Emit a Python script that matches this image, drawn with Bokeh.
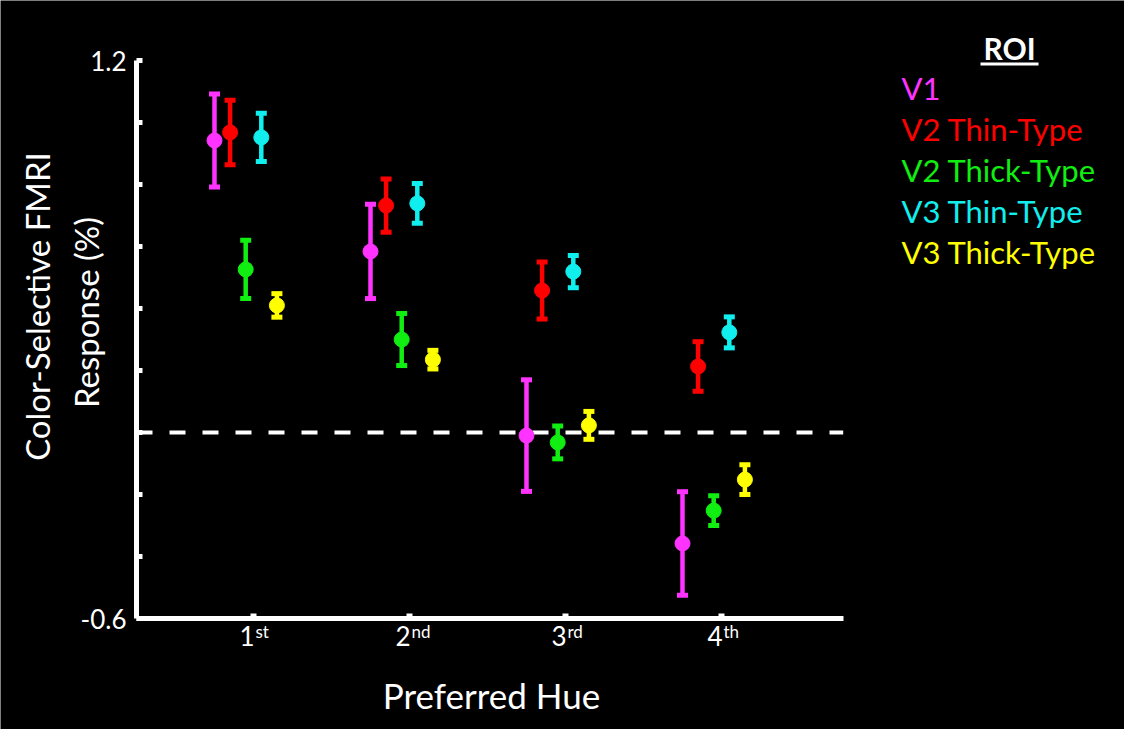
import math
from bokeh.plotting import figure
from bokeh.models import (ColumnDataSource, Whisker, TeeHead, Label,
                          FixedTicker, CustomJSTickFormatter, BoxAnnotation)
from bokeh.embed import file_html
from bokeh.resources import INLINE

# ---------------- data ----------------
hues = [1, 2, 3, 4]
hue_labels = ["1", "2", "3", "4"]
hue_suffix = ["st", "nd", "rd", "th"]

roi_names = ["V1", "V2 Thin-Type", "V2 Thick-Type", "V3 Thin-Type", "V3 Thick-Type"]
roi_colors = ["#ff33ff", "#ff0000", "#11ee11", "#11eeee", "#ffff00"]

v1_mean = [0.942, 0.584, -0.010, -0.358]
v1_err = [0.150, 0.152, 0.180, 0.167]
v2_thin_mean = [0.968, 0.732, 0.458, 0.213]
v2_thin_err = [0.104, 0.086, 0.092, 0.080]
v2_thick_mean = [0.526, 0.300, -0.032, -0.252]
v2_thick_err = [0.094, 0.084, 0.053, 0.048]
v3_thin_mean = [0.952, 0.739, 0.519, 0.323]
v3_thin_err = [0.078, 0.064, 0.052, 0.050]
v3_thick_mean = [0.410, 0.235, 0.023, -0.152]
v3_thick_err = [0.038, 0.030, 0.045, 0.048]

y_ticks = [-0.6, -0.4, -0.2, 0.0, 0.2, 0.4, 0.6, 0.8, 1.0, 1.2]
y_tick_labels = {"1.2": "1.2", "-0.6": "-0.6"}

x_title = "Preferred Hue"
y_title = ["Color-Selective FMRI", "Response (%)"]
legend_title = "ROI"

series_means = [v1_mean, v2_thin_mean, v2_thick_mean, v3_thin_mean, v3_thick_mean]
series_errs = [v1_err, v2_thin_err, v2_thick_err, v3_thin_err, v3_thick_err]

# ---------------- layout ----------------
FONT = "Lato"
W, H = 1124, 729
X_PX = 156.0          # pixels per category step
Y_PX = 310.0          # pixels per response unit
X1_AT = 253           # canvas px of first category
Y0_AT = 432           # canvas px (from top) of zero
x_lo, x_hi = 0.25, 4.78      # axis extent
y_lo, y_hi = -0.6, 1.2

x_range = (1 - X1_AT / X_PX, 1 + (W - X1_AT) / X_PX)
y_range = (-(H - Y0_AT) / Y_PX, Y0_AT / Y_PX)

p = figure(width=W, height=H, output_backend="svg", toolbar_location=None,
           x_range=x_range, y_range=y_range,
           min_border=0, min_border_left=0, min_border_right=0,
           min_border_top=0, min_border_bottom=0)
p.background_fill_color = "black"
p.border_fill_color = "black"
p.outline_line_color = None
p.xgrid.visible = False
p.ygrid.visible = False

# axes placed at fixed locations inside the frame
for ax in (p.xaxis[0], p.yaxis[0]):
    ax.axis_line_color = "white"
    ax.axis_line_width = 5
    ax.major_tick_line_color = "white"
    ax.minor_tick_line_color = None
    ax.major_tick_out = 0
    ax.major_label_text_color = "white"
    ax.major_label_text_font = FONT

p.yaxis.fixed_location = x_lo
p.yaxis.bounds = (y_lo, y_hi)
p.yaxis.ticker = FixedTicker(ticks=y_ticks)
p.yaxis.major_tick_in = 6
p.yaxis.major_tick_line_width = 5
p.yaxis.major_label_text_font_size = "26px"
p.yaxis.major_label_standoff = 10
p.yaxis.formatter = CustomJSTickFormatter(args=dict(labels=y_tick_labels), code="""
    const k = (Math.round(tick * 10) / 10).toFixed(1);
    return (k in labels) ? labels[k] : "";
""")

p.xaxis.fixed_location = y_lo
p.xaxis.bounds = (x_lo, x_hi)
p.xaxis.ticker = FixedTicker(ticks=hues)
p.xaxis.major_tick_in = 5
p.xaxis.major_tick_line_width = 6
p.xaxis.major_label_text_alpha = 0
p.xaxis.major_label_text_font_size = "1px"

# zero reference line
p.line(x=[x_lo, x_hi], y=[0, 0], line_color="white", line_width=4, line_dash="16 17")

# data
for i, (name, color, means, errs) in enumerate(zip(roi_names, roi_colors, series_means, series_errs)):
    dodge = (i - 2) * 0.1 - 0.05
    src = ColumnDataSource(dict(
        x=[h + dodge for h in hues],
        y=means,
        upper=[m + e for m, e in zip(means, errs)],
        lower=[m - e for m, e in zip(means, errs)],
    ))
    p.add_layout(Whisker(base="x", upper="upper", lower="lower", source=src,
                         dimension="height", line_color=color, line_width=4.5,
                         upper_head=TeeHead(size=11, line_color=color, line_width=5),
                         lower_head=TeeHead(size=11, line_color=color, line_width=5)))
    p.scatter("x", "y", source=src, marker="circle", size=15,
              fill_color=color, line_color=color)

# x tick labels with superscripts (screen y measured from canvas bottom)
for h, lab, suf in zip(hues, hue_labels, hue_suffix):
    p.add_layout(Label(x=h, y=94, y_units="screen", x_offset=1, text=lab,
                       text_align="right", text_baseline="alphabetic",
                       text_color="white", text_font=FONT, text_font_size="26px"))
    p.add_layout(Label(x=h, y=98, y_units="screen", x_offset=2, text=suf,
                       text_align="left", text_baseline="alphabetic",
                       text_color="white", text_font=FONT, text_font_size="17px"))

# axis titles
p.add_layout(Label(x=491, y=35, x_units="screen", y_units="screen", text=x_title,
                   text_align="center", text_baseline="alphabetic",
                   text_color="white", text_font=FONT, text_font_size="35px"))
p.add_layout(Label(x=36, y=423, x_units="screen", y_units="screen", text=y_title[0],
                   angle=math.pi / 2, text_align="center", text_baseline="middle",
                   text_color="white", text_font=FONT, text_font_size="33px"))
p.add_layout(Label(x=85, y=417, x_units="screen", y_units="screen", text=y_title[1],
                   angle=math.pi / 2, text_align="center", text_baseline="middle",
                   text_color="white", text_font=FONT, text_font_size="33px"))

# legend
p.add_layout(Label(x=1009, y=682, x_units="screen", y_units="screen", text=legend_title,
                   text_align="center", text_baseline="alphabetic",
                   text_color="white", text_font=FONT, text_font_size="30px",
                   text_font_style="bold"))
p.add_layout(BoxAnnotation(left=980, right=1038, bottom=664, top=667,
                           left_units="screen", right_units="screen",
                           bottom_units="screen", top_units="screen",
                           fill_color="white", fill_alpha=1, line_color=None))
for i, (name, color) in enumerate(zip(roi_names, roi_colors)):
    p.add_layout(Label(x=901, y=642 - 41 * i, x_units="screen", y_units="screen",
                       text=name, text_align="left", text_baseline="alphabetic",
                       text_color=color, text_font=FONT, text_font_size="31px"))

open("out.html", "w").write(file_html(p, INLINE))
